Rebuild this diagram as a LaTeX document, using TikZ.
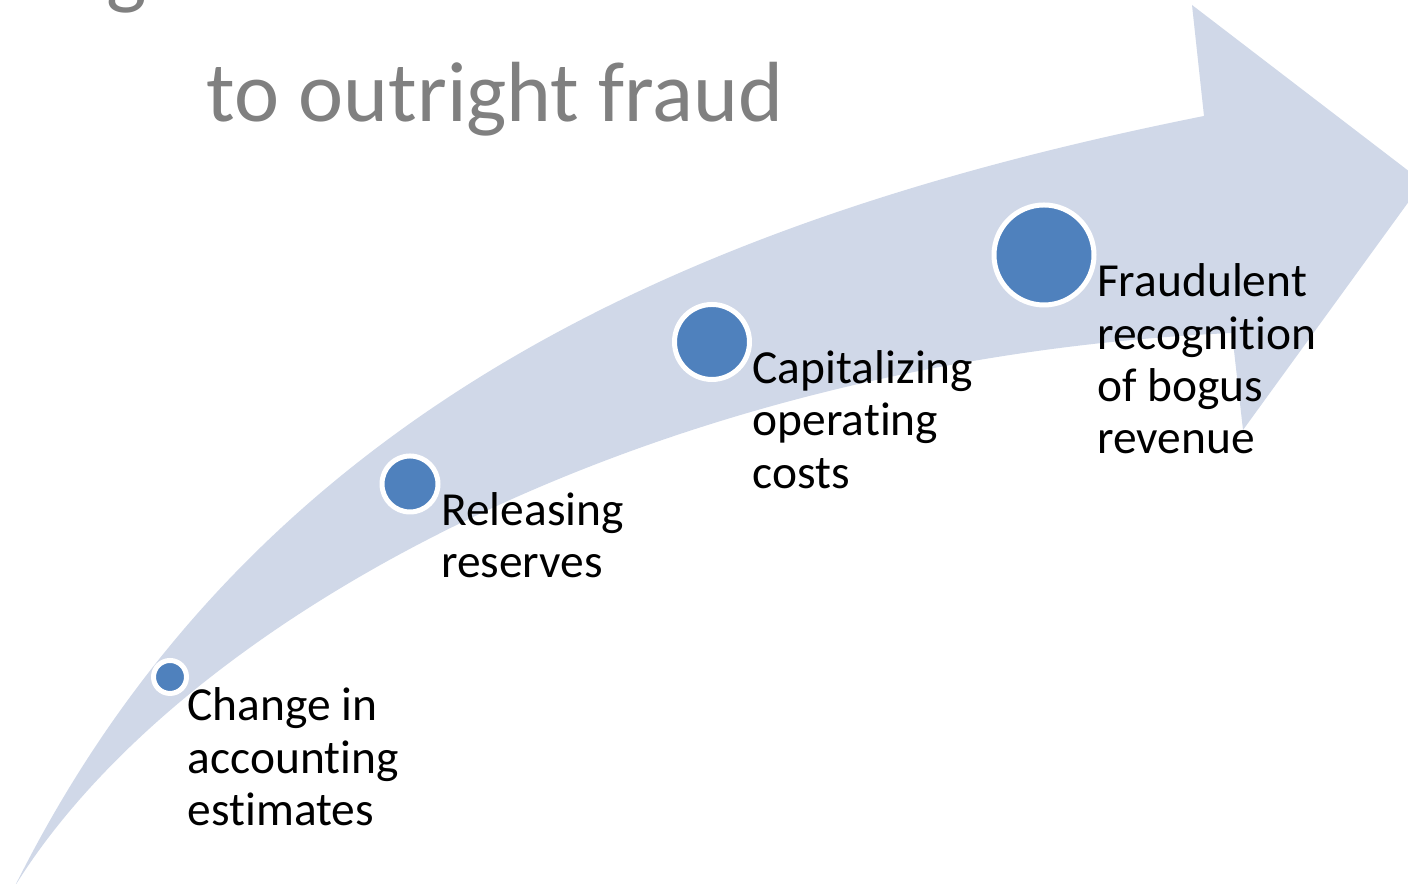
\documentclass[tikz,border=0pt]{standalone}
\usepackage{fontspec}
\setmainfont{Carlito}[Ligatures=NoCommon]
\usetikzlibrary{positioning}
\definecolor{bandblue}{HTML}{D0D8E8}
\definecolor{beadblue}{HTML}{4F81BD}
\definecolor{titlegray}{HTML}{808080}
\tikzset{
  heading/.style={inner sep=0pt, font=\fontsize{24.3pt}{29pt}\selectfont, text=titlegray},
  bead/.style={circle, fill=beadblue, draw=white, line width=0.05cm, inner sep=0pt},
  beadtext/.style={inner sep=0pt, align=left, font=\fontsize{13.5pt}{14.9pt}\selectfont, text=black},
}

\begin{document}
\begin{tikzpicture}
  \useasboundingbox (0,0) rectangle (14.08,8.84);
  \clip (0,0) rectangle (14.08,8.84);

  % ---- Title ----
  \node[heading, anchor=south] (prevline) at (1.27,8.70) {g};
  \node[heading, anchor=base west] (title) at (2.06,7.62) {to outright fraud};

  % ---- Curved arrow ----
  \fill[bandblue] (0.15,-0.02) .. controls (2.55,4.80) and (7.04,6.68) .. (12.04,7.68)
    -- (11.92,8.79) -- (14.23,7.02) -- (12.43,4.54) -- (12.32,5.51)
    .. controls (6.50,5.24) and (1.80,2.64) .. (0.15,-0.02) -- cycle;

  % ---- Stages ----
  \node[bead, minimum size=0.33cm] (c1) at (1.70,2.07) {};
  \node[bead, minimum size=0.56cm] (c2) at (4.10,4.00) {};
  \node[bead, minimum size=0.75cm] (c3) at (7.12,5.42) {};
  \node[bead, minimum size=1.00cm] (c4) at (10.44,6.29) {};

  \node[beadtext, below right=0.10cm and -0.02cm of c1.east] (t1)
    {Change in\\accounting\\estimates};
  \node[beadtext, below right=0.08cm and 0cm of c2.east] (t2)
    {Releasing\\reserves};
  \node[beadtext, below right=0.08cm and 0cm of c3.east] (t3)
    {Capitalizing\\operating\\costs};
  \node[beadtext, below right=0.08cm and 0cm of c4.east] (t4)
    {Fraudulent\\recognition\\of bogus\\revenue};
\end{tikzpicture}
\end{document}
